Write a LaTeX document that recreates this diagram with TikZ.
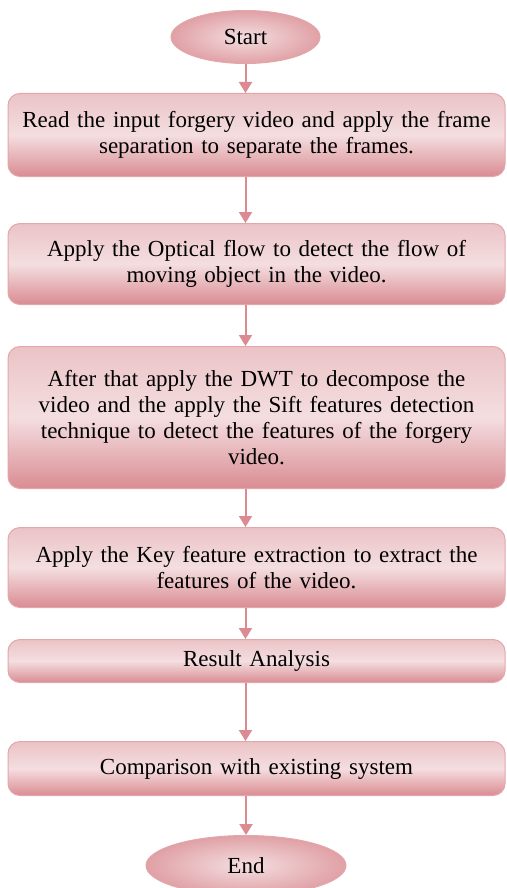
\documentclass[tikz,border=0pt]{standalone}
\usepackage{fontspec}
\setmainfont{Liberation Serif}
\usetikzlibrary{positioning,shapes.geometric,arrows.meta}

\definecolor{rosedark}{HTML}{D98C92}
\definecolor{roselight}{HTML}{F4DEE0}
\definecolor{rosemid}{HTML}{EBC3C6}
\definecolor{roseline}{HTML}{E3A7AB}
\definecolor{rosearrow}{HTML}{DA8A90}

\tikzset{
  process/.style={draw=roseline, line width=1pt, rounded corners=12pt,
    top color=rosemid, bottom color=rosedark, middle color=roselight,
    minimum width=497pt, text width=484pt, align=center,
    font=\fontsize{23}{26}\selectfont},
  terminal/.style={ellipse, draw=roseline, line width=1pt,
    inner color=roselight, outer color=rosedark!75!roselight,
    font=\fontsize{23}{26}\selectfont},
  flow/.style={draw=rosearrow, line width=2pt, -{Triangle[width=13pt,length=11pt]}}
}

\begin{document}
\begin{tikzpicture}
\useasboundingbox (0,0) rectangle (506pt,-888pt);
% Nodes
\node[terminal, minimum width=149pt, minimum height=53pt] (start) at (245.5pt,-37pt) {Start};
\node[process, minimum height=83pt, below=29pt of start, xshift=11pt] (read) {Read the input forgery video and apply the frame\\ separation to separate the frames.};
\node[process, minimum height=81pt, below=46pt of read] (optical) {Apply the Optical flow to detect the flow of\\ moving object in the video.};
\node[process, minimum height=142pt, below=41pt of optical] (dwt) {After that apply the DWT to decompose the\\ video and the apply the Sift features detection\\ technique to detect the features of the forgery\\ video.};
\node[process, minimum height=80pt, below=38pt of dwt] (key) {Apply the Key feature extraction to extract the\\ features of the video.};
\node[process, minimum height=43pt, below=31pt of key] (result) {Result Analysis};
\node[process, minimum height=54pt, below=58pt of result] (compare) {Comparison with existing system};
\node[terminal, minimum width=200pt, minimum height=60pt, below=39pt of compare, xshift=-10.5pt] (end) {End};

% Arrows
\draw[flow] (start) -- (start |- read.north);
\draw[flow] (read.south -| start) -- (optical.north -| start);
\draw[flow] (optical.south -| start) -- (dwt.north -| start);
\draw[flow] (dwt.south -| start) -- (key.north -| start);
\draw[flow] (key.south -| start) -- (result.north -| start);
\draw[flow] (result.south -| start) -- (compare.north -| start);
\draw[flow] (compare.south -| end) -- (end);

\end{tikzpicture}
\end{document}
